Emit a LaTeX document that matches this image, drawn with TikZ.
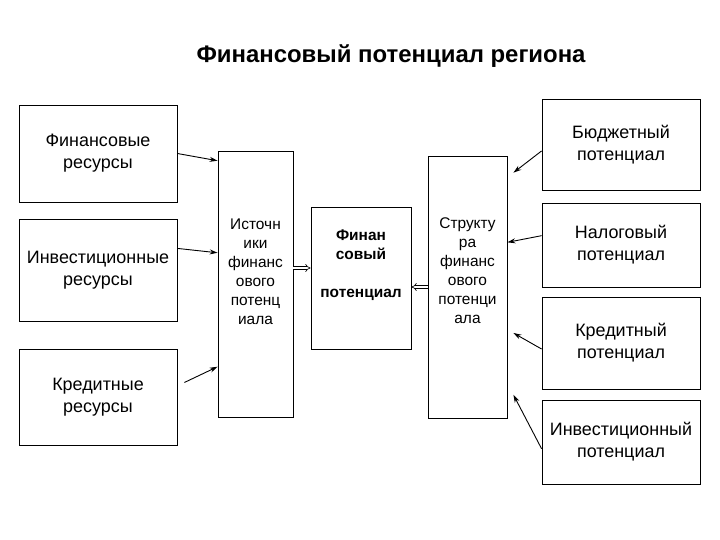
\documentclass[tikz,border=0pt]{standalone}
\usepackage{fontspec}
\setmainfont{Liberation Sans}
\usetikzlibrary{arrows.meta,calc}

\tikzset{
  box/.style={draw, line width=0.8bp, rectangle, inner sep=0pt, align=center,
    font=\fontsize{18}{22}\selectfont},
  side/.style={box, minimum width=158bp},
  mid/.style={draw, line width=0.8bp, rectangle, inner sep=0pt},
  midtext/.style={align=center, inner sep=0pt, font=\fontsize{15.5}{19}\selectfont},
  arr/.style={-{Stealth[length=8bp,width=5bp]}, line width=0.9bp},
  dbl/.style={double, double distance=2.2bp, line width=0.6bp, -{Implies}}
}

\begin{document}
\begin{tikzpicture}[x=1bp,y=-1bp]
\useasboundingbox (0,0) rectangle (720,540);

\node[anchor=base, font=\fontsize{24}{28}\selectfont\bfseries] (title) at (391,63) {Финансовый потенциал региона};

% left side
\node[side, minimum height=97bp] (finres) at (98,153.5) {Финансовые\\ресурсы};
\node[side, minimum height=102bp] (invres) at (98,270) {Инвестиционные\\ресурсы};
\node[side, minimum height=96bp] (credres) at (98,397) {Кредитные\\ресурсы};

% middle
\node[mid, minimum width=75bp, minimum height=266bp,
  label={[midtext, yshift=12bp]center:Источн\\ики\\финанс\\ового\\потенц\\иала}] (src) at (255.5,284) {};
\node[mid, minimum width=100bp, minimum height=142bp,
  label={[midtext, font=\fontsize{15.5}{19}\selectfont\bfseries, yshift=13bp]center:Финан\\совый\\[19bp]потенциал}] (finpot) at (361,278) {};
\node[mid, minimum width=79bp, minimum height=262bp,
  label={[midtext, yshift=16bp]center:Структу\\ра\\финанс\\ового\\потенци\\ала}] (struct) at (467.5,287) {};

% right side
\node[side, minimum height=91bp] (budget) at (621,144.5) {Бюджетный\\потенциал};
\node[side, minimum height=84bp] (tax) at (621,245) {Налоговый\\потенциал};
\node[side, minimum height=92bp] (credpot) at (621,343) {Кредитный\\потенциал};
\node[side, minimum height=84bp] (invpot) at (621,442) {Инвестиционный\\потенциал};

% arrows into sources
\draw[arr] (finres.east) -- ($(src.north west)!0.038!(src.south west)$);
\draw[arr] ($(invres.north east)!0.29!(invres.south east)$) -- ($(src.north west)!0.383!(src.south west)$);
\draw[arr] ([xshift=7bp]$(credres.north east)!0.35!(credres.south east)$) -- ($(src.north west)!0.81!(src.south west)$);

% arrows into structure
\draw[arr] ($(budget.north west)!0.57!(budget.south west)$) -- ([xshift=6bp]$(struct.north east)!0.065!(struct.south east)$);
\draw[arr] ($(tax.north west)!0.39!(tax.south west)$) -- ($(struct.north east)!0.33!(struct.south east)$);
\draw[arr] ($(credpot.north west)!0.565!(credpot.south west)$) -- ([xshift=6bp]$(struct.north east)!0.675!(struct.south east)$);
\draw[arr] ($(invpot.north west)!0.58!(invpot.south west)$) -- ([xshift=6bp]$(struct.north east)!0.91!(struct.south east)$);

% into financial potential
\draw[dbl] ($(src.north east)!0.44!(src.south east)$) coordinate (p1) -- (p1 -| finpot.west);
\draw[dbl] (struct.west) -- (struct.west -| finpot.east);
\end{tikzpicture}
\end{document}
